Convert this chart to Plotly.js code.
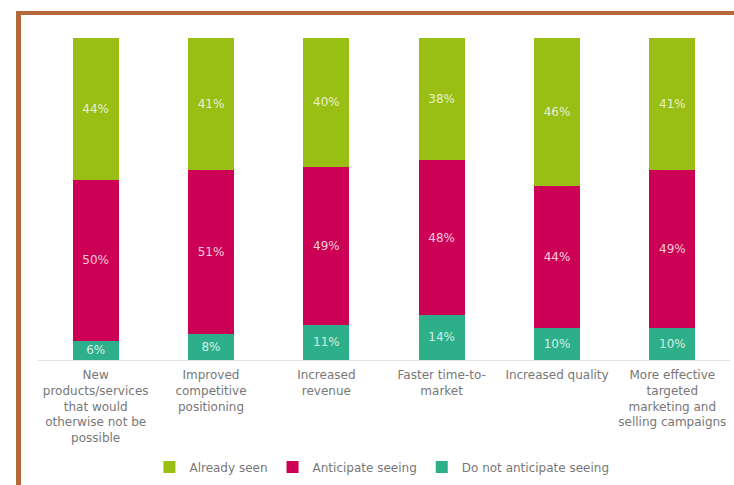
<!DOCTYPE html>
<html>
<head>
<meta charset="utf-8">
<script src="https://cdn.plot.ly/plotly-3.0.1.min.js"></script>
<style>
html,body{margin:0;padding:0;background:#fff;}
#wrap{position:relative;width:734px;height:485px;}
#chart{position:absolute;left:0;top:0;width:734px;height:485px;}
#frame{position:absolute;left:16px;top:11px;width:718px;height:474px;border-top:4px solid #B5693A;border-left:5px solid #B5693A;pointer-events:none;}
</style>
</head>
<body>
<div id="wrap"><div id="chart"></div><div id="frame"></div></div>
<script>
const categories = [
  "New<br>products/services<br>that would<br>otherwise not be<br>possible",
  "Improved<br>competitive<br>positioning",
  "Increased<br>revenue",
  "Faster time-to-<br>market",
  "Increased quality",
  "More effective<br>targeted<br>marketing and<br>selling campaigns"
];
const doNotAnticipate = [6, 8, 11, 14, 10, 10];
const anticipate = [50, 51, 49, 48, 44, 49];
const alreadySeen = [44, 41, 40, 38, 46, 41];

const pct = a => a.map(v => v + "%");
const common = {
  type: "bar",
  x: categories,
  textposition: "inside",
  insidetextanchor: "middle",
  textangle: 0,
  constraintext: "none",
  textfont: {family: "DejaVu Sans, Verdana, sans-serif", size: 12, color: "rgba(255,255,255,0.8)"},
  hoverinfo: "none"
};
const traces = [
  Object.assign({}, common, {name: "Do not anticipate seeing", y: doNotAnticipate, text: pct(doNotAnticipate), marker: {color: "#2DB08A"}, legendrank: 3}),
  Object.assign({}, common, {name: "Anticipate seeing", y: anticipate, text: pct(anticipate), marker: {color: "#CC0055"}, legendrank: 2}),
  Object.assign({}, common, {name: "Already seen", y: alreadySeen, text: pct(alreadySeen), marker: {color: "#99BE14"}, legendrank: 1})
];
const layout = {
  width: 734, height: 485,
  margin: {l: 38, r: 4, t: 38, b: 125},
  barmode: "stack",
  bargap: 0.6,
  paper_bgcolor: "#fff",
  plot_bgcolor: "#fff",
  font: {family: "DejaVu Sans, Verdana, sans-serif", size: 11, color: "#777"},
  xaxis: {
    showline: true, linecolor: "#e2e2e2", linewidth: 1,
    ticks: "", tickfont: {size: 12, color: "#777"},
    ticklabelstandoff: 4,
    showgrid: false, fixedrange: true
  },
  yaxis: {range: [0, 100], visible: false, showgrid: false, fixedrange: true},
  legend: {
    orientation: "h", x: 0.497, xanchor: "center", y: -0.332, yanchor: "middle",
    traceorder: "normal", itemwidth: 30, font: {size: 12, color: "#777"}
  },
  showlegend: true
};
Plotly.newPlot("chart", traces, layout, {displayModeBar: false, staticPlot: true});
</script>
</body>
</html>
